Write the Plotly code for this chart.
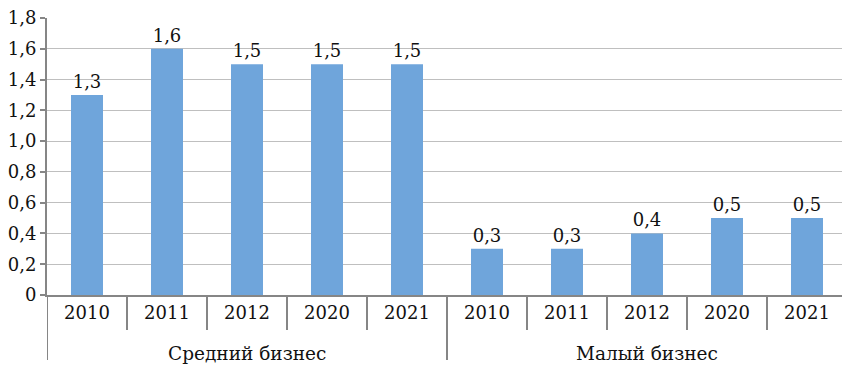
import plotly.graph_objects as go

groups = ["Средний бизнес", "Малый бизнес"]
years = ["2010", "2011", "2012", "2020", "2021"]
medium_values = [1.3, 1.6, 1.5, 1.5, 1.5]
small_values = [0.3, 0.3, 0.4, 0.5, 0.5]
y_ticks = [0, 0.2, 0.4, 0.6, 0.8, 1.0, 1.2, 1.4, 1.6, 1.8]

values = medium_values + small_values
labels = years + years
xpos = list(range(len(values)))

def fmt(v):
    return f"{v:.1f}".replace(".", ",")

FONT = "DejaVu Serif, Liberation Serif, serif"
FS = 18
TXT = "#111111"
GREY = "#868686"
H_PLOT = 277.0

fig = go.Figure()
fig.add_trace(go.Bar(
    x=xpos, y=values, width=0.4,
    marker=dict(color="#6FA5DB", line=dict(width=0)),
    text=[fmt(v) for v in values], textposition="outside",
    textfont=dict(family=FONT, size=FS, color=TXT),
    cliponaxis=False,
))

shapes = []
n = len(values)
for i in range(n + 1):
    b = i - 0.5
    long = (i == 0 or i == n or i == len(years))
    shapes.append(dict(type="line", xref="x", yref="paper", x0=b, x1=b,
                       y0=0, y1=-(65 if long else 35) / H_PLOT,
                       line=dict(color=GREY, width=2)))

annotations = []
for gi, g in enumerate(groups):
    center = gi * len(years) + (len(years) - 1) / 2
    annotations.append(dict(x=center, xref="x", y=-58 / H_PLOT, yref="paper",
                            text=g, showarrow=False, yanchor="middle",
                            font=dict(family=FONT, size=18.5, color=TXT)))

fig.update_layout(
    width=842, height=362,
    margin=dict(l=39, r=3, t=10, b=75, autoexpand=False),
    paper_bgcolor="white", plot_bgcolor="white",
    showlegend=False,
    shapes=shapes, annotations=annotations,
    font=dict(family=FONT, size=FS, color=TXT),
)
fig.update_xaxes(
    range=[-0.5, n - 0.5], tickmode="array", tickvals=xpos, ticktext=labels,
    showgrid=False, zeroline=False, showline=True, linecolor=GREY, linewidth=2,
    ticks="", tickfont=dict(family=FONT, size=FS, color=TXT),
)
fig.update_yaxes(
    range=[0, 1.8], tickmode="array", tickvals=y_ticks,
    ticktext=["0" if v == 0 else fmt(v) for v in y_ticks],
    showgrid=True, gridcolor="#BFBFBF", gridwidth=1, zeroline=False,
    showline=True, linecolor=GREY, linewidth=2,
    ticks="outside", ticklen=5, tickcolor=GREY, tickwidth=2,
    tickfont=dict(family=FONT, size=FS, color=TXT),
    ticklabeloverflow="allow",
)

fig.write_html("out.html")
